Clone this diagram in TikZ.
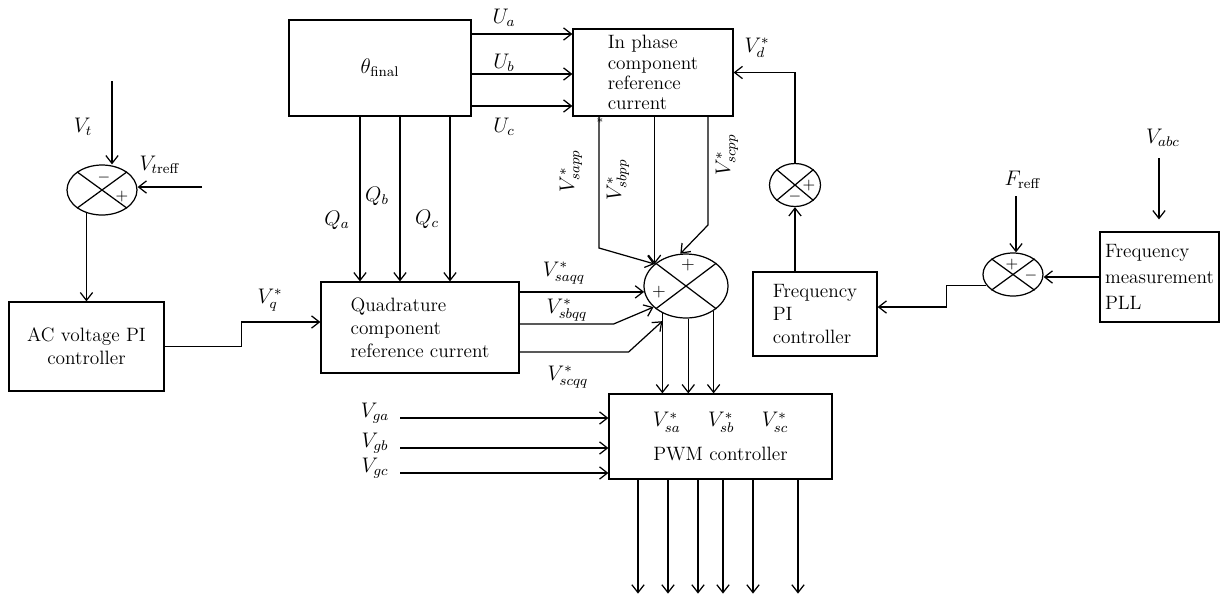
\documentclass[tikz,border=0pt]{standalone}
\usetikzlibrary{shapes.geometric,arrows.meta}
\begin{document}
\begin{tikzpicture}[
  x=0.02cm, y=-0.02cm, >={Straight Barb[length=4.5pt,width=7pt]},
  font=\fontsize{11pt}{13pt}\selectfont,
  block/.style={draw, line width=0.7pt, align=left, inner sep=1pt},
  summer/.style={draw, line width=0.7pt, ellipse, inner sep=0pt},
  flow/.style={->, line width=0.7pt},
  sign/.style={inner sep=0pt, font=\small},
  lab/.style={inner sep=1pt, font=\fontsize{12pt}{14pt}\selectfont}
]
  \useasboundingbox (0,0) rectangle (1225,603);

  %% ============================================================ the blocks
  \node[block, align=center, minimum width=3.10cm, minimum height=1.78cm]
    (acpi) at (86.5,346.5) {AC voltage PI\\controller};
  \node[block, minimum width=3.64cm, minimum height=1.92cm,
    font=\fontsize{12pt}{14pt}\selectfont]
    (theta) at (380,68) {$\theta_{\mathrm{final}}$};
  \node[block, minimum width=3.20cm, minimum height=1.74cm,
    font=\fontsize{11pt}{11.5pt}\selectfont]
    (inph) at (653,72.5) {In phase\\component\\reference\\current};
  \node[block, minimum width=3.96cm, minimum height=1.82cm]
    (quad) at (420,327.5) {Quadrature\\component\\reference current};
  \node[block, minimum width=2.48cm, minimum height=1.68cm]
    (fpi) at (815,314) {Frequency\\PI\\controller};
  \node[block, minimum width=2.38cm, minimum height=1.80cm,
    font=\fontsize{11pt}{15pt}\selectfont]
    (pll) at (1159.5,277) {Frequency\\measurement\\PLL};
  \node[block, align=center, minimum width=4.46cm, minimum height=1.70cm]
    (pwm) at (720.5,436.5)
    {\fontsize{12pt}{14pt}\selectfont
     $V^*_{sa}$\hspace{0.55cm}$V^*_{sb}$\hspace{0.55cm}$V^*_{sc}$\\[6pt]PWM controller};

  %% =========================================================== the summers
  \node[summer, minimum width=1.40cm, minimum height=1.00cm] (sumt) at (102,190) {};
  \node[summer, minimum width=1.02cm, minimum height=0.86cm] (sumd) at (795,185) {};
  \node[summer, minimum width=1.20cm, minimum height=0.86cm] (sumf) at (1013,274.5) {};
  \node[summer, minimum width=1.68cm, minimum height=1.28cm] (sumv) at (686,286) {};
  \foreach \s/\a/\b/\c/\d in {sumt/36/216/144/324, sumd/40/220/140/320,
      sumf/36/216/144/324, sumv/37/217/143/323}
    {\draw[line width=0.7pt] (\s.\a) -- (\s.\b) (\s.\c) -- (\s.\d);}

  \node[sign] (sumt-m) at (104,178) {$-$};
  \node[sign] (sumt-p) at (122,197) {$+$};
  \node[sign] (sumd-p) at (809,186) {$+$};
  \node[sign] (sumd-m) at (795,197) {$-$};
  \node[sign] (sumf-p) at (1012,265) {$+$};
  \node[sign] (sumf-m) at (1031,276) {$-$};
  \node[sign, font=\normalsize] (sumv-pa) at (688,265) {$+$};
  \node[sign, font=\normalsize] (sumv-pb) at (659,292) {$+$};

  %% ------------------------------------------------ terminal voltage loop
  \coordinate (vt) at (112,81);
  \coordinate (vtr) at (202,187);
  \draw[flow] (vt) -- (vt |- sumt.north);
  \node[lab] (lvt) at (83,127) {$V_t$};
  \draw[flow] (vtr) -- (vtr -| sumt.east);
  \node[lab] (lvtr) at (160,165) {$V_{t\mathrm{reff}}$};
  \draw[flow] (sumt.236) -- (sumt.236 |- acpi.north);

  \draw[flow] (acpi.east) -- ++(77,0) |- ([yshift=0.11cm]quad.west);
  \node[lab] (lvq) at (270,300) {$V^*_q$};

  %% ------------------------------------------------------ theta outputs
  \foreach \y/\p/\ly in {34/a/18, 74/b/63, 106/c/127}{
    \draw[flow] (theta.east |- 0,\y) -- (inph.west |- 0,\y);
    \node[lab] (lu\p) at (504,\ly) {$U_\p$};
  }
  \foreach \x/\p/\ly in {360/a/220, 400/b/196, 450/c/219}{
    \draw[flow] (theta.south -| \x,0) -- (quad.north -| \x,0);
    \node[lab] (lq\p) at (\x-23,\ly) {$Q_\p$};
  }

  %% ------------------------------------------------ in phase to summer
  \draw[flow] (inph.south -| 599,0) -- (599,248) -- (sumv.145);
  \node[inner sep=0pt, font=\scriptsize] (star) at (600,121) {$*$};
  \draw[flow] (inph.south -| sumv.145) -- (sumv.145);
  \draw[flow] (inph.south -| 708,0) -- (708,225) -- (sumv.100);
  \node[lab, rotate=90] (lsapp) at (571,171) {$V^*_{sapp}$};
  \node[lab, rotate=90] (lsbpp) at (618,180) {$V^*_{sbpp}$};
  \node[lab, rotate=90] (lscpp) at (727,155) {$V^*_{scpp}$};

  %% ------------------------------------------------ quadrature to summer
  \draw[flow] (quad.east |- sumv.188) -- (sumv.188);
  \draw[flow] ([yshift=0.07cm]quad.east) -- ++(94,0) -- (sumv.213);
  \draw[flow] ([yshift=-0.49cm]quad.east) -- ++(109,0) -- ([yshift=-0.16cm]sumv.229);
  \node[lab] (lsaqq) at (564,273) {$V^*_{saqq}$};
  \node[lab] (lsbqq) at (567,310) {$V^*_{sbqq}$};
  \node[lab] (lscqq) at (568,377) {$V^*_{scqq}$};

  \foreach \a in {229,274,318}
    \draw[flow] (sumv.\a) -- (sumv.\a |- pwm.north);

  %% ------------------------------------------------------ frequency loop
  \draw[flow] (sumd.north) |- (inph.east);
  \node[lab] (lvd) at (757,48) {$V^*_d$};
  \draw[flow] (sumd.south |- fpi.north) -- (sumd.south);
  \draw[flow] (sumf.202) -- ++(-40,0) |- ([yshift=0.14cm]fpi.east);
  \draw[flow] (pll.west) -- (pll.west -| sumf.east);
  \coordinate (fr) at (1016,196);
  \draw[flow] (fr) -- (fr |- sumf.north);
  \node[lab] (lfr) at (1023,180) {$F_{\mathrm{reff}}$};
  \coordinate (vabc) at (1159,158);
  \draw[flow, shorten >=0.24cm] (vabc) -- (vabc |- pll.north);
  \node[lab] (lvabc) at (1163,138) {$V_{abc}$};

  %% ------------------------------------------------------ PWM in and out
  \foreach \y/\p in {418/a, 448/b, 473/c}{
    \coordinate (vg\p) at (400,\y);
    \draw[flow] (vg\p) -- (vg\p -| pwm.west);
    \node[lab] (lvg\p) at (375,\y-5) {$V_{g\p}$};
  }
  \foreach \x in {638,668,698,723,753,798}
    \draw[flow] (pwm.south -| \x,0) -- ++(0,114);

\end{tikzpicture}
\end{document}
